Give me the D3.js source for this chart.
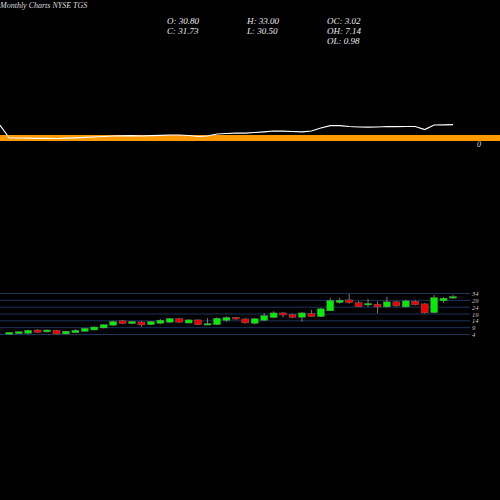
<!DOCTYPE html>
<html>
<head>
<meta charset="utf-8">
<script src="https://cdn.jsdelivr.net/npm/d3@7"></script>
<style>
  body { margin: 0; background: #000; }
  svg { display: block; }
  text { font-family: "Liberation Serif", serif; font-style: italic; }
</style>
</head>
<body>
<svg width="500" height="500"></svg>
<script>
"use strict";
// monthly candles: open, high, low, close
const opens  = [4.2, 4.6, 4.9, 7.3, 5.9, 7.1, 4.4, 5.3, 6.3, 7.3, 8.8, 10.8, 14, 12, 13.2, 11.2, 12.2, 13, 15.7, 12.4, 14.7, 11.5, 11.2, 14.3, 16.5,
                15.4, 12.2, 14.4, 16.4, 19.8, 18.5, 16.6, 19.3, 17.1, 21.3, 27.4, 29.3, 27.2, 25.6, 26.2, 24.2, 27.9, 24.2, 28.3, 26.4, 20, 28.6, 30.8];
const closes = [5.6, 6.1, 7.1, 5.6, 7.3, 4.4, 6.4, 7.1, 8.5, 9.5, 11.2, 13.5, 12, 13.5, 11, 13.5, 14.5, 15.7, 13, 14.7, 11.2, 12, 15.9, 16.5, 15.3,
                12.5, 15.6, 17.8, 19.8, 18.3, 16.6, 19.8, 17.1, 22.8, 28.9, 29.1, 27.3, 24.4, 26.7, 24.2, 27.9, 24.9, 28.6, 25.7, 19.8, 31, 30.6, 31.73];
const highs  = [5.8, 6.3, 7.4, 7.8, 7.6, 7.4, 6.8, 7.9, 8.9, 9.9, 11.6, 14.2, 14.6, 13.9, 14, 13.9, 15.2, 16.2, 16.2, 15.2, 15, 16, 16.6, 17.3, 16.9,
                15.9, 16, 19.5, 21, 20.4, 19.2, 20.6, 22, 23.5, 30.8, 30.8, 33.8, 28.5, 30, 28.3, 31.5, 28.6, 29.5, 29, 27, 33, 31.4, 33];
const lows   = [3.9, 4.3, 4.6, 5.2, 5.5, 4.1, 4.1, 5, 6, 7, 8.5, 10.2, 11.6, 11.6, 9.6, 10.9, 11.9, 12.7, 12.7, 12, 10.9, 11, 10.9, 13.3, 14.8,
                12, 11.3, 14, 16, 16.5, 16, 13.4, 16.8, 16.8, 21, 26.5, 26.5, 24, 24.2, 19.5, 23.8, 24.4, 23.8, 25.2, 19.3, 19.5, 27.2, 30.5];
// line series (first value is the point before the first candle)
const lineValues = [15, 2, 2, 1.8, 1.7, 1.6, 1.5, 1.8, 2.2, 2.6, 3, 3.5, 4, 4.2, 4.3, 4, 4.4, 4.6, 5, 5, 4.5, 3.5, 4, 6, 6.5, 6.8,
                    6.8, 7.5, 8.2, 9, 8.8, 8.5, 8.2, 9, 12, 14.3, 14.3, 13.5, 13, 12.8, 13, 13.5, 13.3, 13.5, 13.5, 10.5, 15, 15.2, 15.3];
const priceTicks = [4, 9, 14, 19, 24, 29, 34];

const svg = d3.select("svg");
const x = d3.scaleLinear().domain([0, opens.length - 1]).range([9.3, 453]);
const y = d3.scaleLinear().domain([4, 34]).range([334.5, 293.5]);
const yLine = d3.scaleLinear().domain([0, 15]).range([140, 125]);

// header
svg.append("text").attr("x", 0).attr("y", 8).attr("font-size", 8).attr("fill", "#ddd").text("Monthly Charts NYSE TGS");
const info = [["O: 30.80", 167, 24], ["C: 31.73", 167, 34], ["H: 33.00", 247, 24], ["L: 30.50", 247, 34],
              ["OC: 3.02", 327, 24], ["OH: 7.14", 327, 34], ["OL: 0.98", 327, 44]];
svg.selectAll(".info").data(info).enter().append("text")
  .attr("x", d => d[1]).attr("y", d => d[2]).attr("font-size", 9).attr("fill", "#eee").text(d => d[0]);

// orange band + line
svg.append("rect").attr("x", 0).attr("y", yLine(5) ).attr("width", 500).attr("height", yLine(-1) - yLine(5)).attr("fill", "#ff9900");
svg.append("path").datum(lineValues)
  .attr("d", d3.line().x((d, i) => x(i - 1)).y(d => yLine(d)))
  .attr("fill", "none").attr("stroke", "#fff").attr("stroke-width", 1.2);
svg.append("text").attr("x", 477).attr("y", 147).attr("font-size", 8).attr("fill", "#ddd").text("0");

// price grid
svg.selectAll(".grid").data(priceTicks).enter().append("line")
  .attr("x1", 0).attr("x2", 470).attr("y1", d => y(d)).attr("y2", d => y(d))
  .attr("stroke", "#1b3558").attr("stroke-width", 1);
svg.selectAll(".tick").data(priceTicks).enter().append("text")
  .attr("x", 472).attr("y", d => y(d) + 2.5).attr("font-size", 6.5).attr("fill", "#ccc").text(d => d);

// candles
const idx = d3.range(opens.length);
const col = i => closes[i] >= opens[i] ? "#00ee00" : "#ee0000";
svg.selectAll(".wick").data(idx).enter().append("line")
  .attr("x1", i => x(i)).attr("x2", i => x(i))
  .attr("y1", i => y(highs[i])).attr("y2", i => y(lows[i]))
  .attr("stroke", "#999").attr("stroke-width", 0.8);
svg.selectAll(".body").data(idx).enter().append("rect")
  .attr("x", i => x(i) - 3.5).attr("width", 7)
  .attr("y", i => y(Math.max(opens[i], closes[i])))
  .attr("height", i => Math.max(1.5, Math.abs(y(opens[i]) - y(closes[i]))))
  .attr("fill", col).attr("stroke", "#777").attr("stroke-width", 0.4);
</script>
</body>
</html>
